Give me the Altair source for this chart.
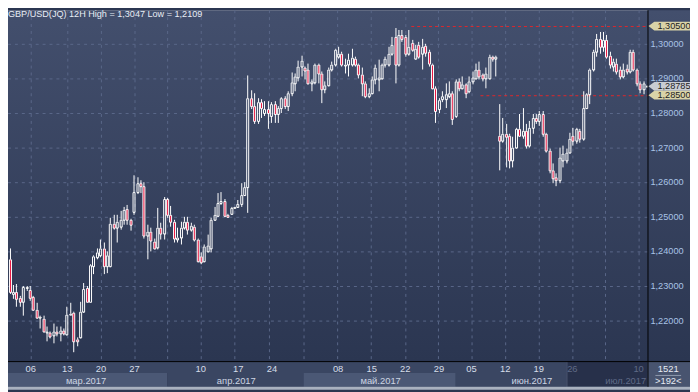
import altair as alt
import pandas as pd

# ---------------- data: 12H candles, left to right ----------------
open_ = [
 1.2377,1.2277,1.2284,1.2265,1.2255,1.2293,1.2289,1.2268,1.2231,1.2208,
 1.2206,1.2165,1.2166,1.2156,1.2168,1.2163,1.2171,1.2160,1.2217,1.2223,
 1.2147,1.2151,1.2225,1.2293,1.2255,1.2358,1.2382,1.2389,1.2408,1.2358,
 1.2358,1.2480,1.2468,1.2472,1.2491,1.2522,1.2491,1.2515,1.2572,1.2596,
 1.2589,1.2446,1.2456,1.2430,1.2411,1.2468,1.2451,1.2551,1.2506,1.2487,
 1.2434,1.2439,1.2468,1.2487,1.2463,1.2472,1.2434,1.2387,1.2372,1.2401,
 1.2408,1.2491,1.2503,1.2539,1.2547,1.2506,1.2509,1.2527,1.2530,1.2537,
 1.2563,1.2587,1.2844,1.2820,1.2777,1.2830,1.2801,1.2811,1.2790,1.2827,
 1.2796,1.2813,1.2842,1.2820,1.2858,1.2887,1.2903,1.2934,1.2930,1.2925,
 1.2887,1.2889,1.2939,1.2913,1.2868,1.2880,1.2925,1.2939,1.2963,1.2972,
 1.2936,1.2939,1.2939,1.2958,1.2939,1.2912,1.2887,1.2849,1.2858,1.2896,
 1.2898,1.2901,1.2939,1.2939,1.2972,1.3020,1.2939,1.3025,1.3020,1.2972,
 1.3003,1.2958,1.2996,1.2972,1.2994,1.2977,1.2939,1.2872,1.2811,1.2839,
 1.2839,1.2849,1.2858,1.2791,1.2891,1.2872,1.2882,1.2863,1.2891,1.2901,
 1.2925,1.2910,1.2901,1.2901,1.2963,1.2958,1.2734,1.2720,1.2739,1.2734,
 1.2663,1.2701,1.2753,1.2734,1.2749,1.2706,1.2758,1.2787,1.2777,1.2796,
 1.2739,1.2691,1.2634,1.2615,1.2606,1.2663,1.2663,1.2686,1.2734,1.2720,
 1.2749,1.2725,1.2815,1.2853,1.2925,1.2977,1.3015,1.2991,1.3010,1.2967,
 1.2934,1.2944,1.2925,1.2906,1.2929,1.2920,1.2977,1.2926,1.2887,1.2869,
 1.2878,
]
high = [
 1.2408,1.2303,1.2306,1.2272,1.2299,1.2301,1.2299,1.2272,1.2251,1.2215,
 1.2215,1.2182,1.2170,1.2191,1.2182,1.2182,1.2176,1.2239,1.2251,1.2225,
 1.2151,1.2255,1.2310,1.2299,1.2363,1.2389,1.2410,1.2434,1.2425,1.2401,
 1.2496,1.2506,1.2506,1.2517,1.2530,1.2534,1.2494,1.2620,1.2614,1.2605,
 1.2600,1.2477,1.2468,1.2437,1.2525,1.2482,1.2558,1.2555,1.2531,1.2491,
 1.2468,1.2487,1.2501,1.2501,1.2482,1.2477,1.2436,1.2396,1.2420,1.2449,
 1.2496,1.2530,1.2568,1.2572,1.2551,1.2510,1.2530,1.2530,1.2549,1.2596,
 1.2601,1.2909,1.2865,1.2858,1.2844,1.2839,1.2834,1.2834,1.2830,1.2834,
 1.2820,1.2846,1.2849,1.2863,1.2918,1.2915,1.2952,1.2966,1.2934,1.2944,
 1.2896,1.2944,1.2944,1.2920,1.2892,1.2930,1.2949,1.2987,1.2992,1.2977,
 1.2958,1.2972,1.2987,1.2963,1.2944,1.2930,1.2891,1.2872,1.2906,1.2939,
 1.2955,1.2944,1.2963,1.2991,1.3020,1.3047,1.3039,1.3039,1.3025,1.3039,
 1.3010,1.2996,1.3006,1.3015,1.2999,1.2984,1.2944,1.2877,1.2844,1.2863,
 1.2887,1.2891,1.2863,1.2896,1.2901,1.2906,1.2887,1.2906,1.2920,1.2944,
 1.2949,1.2915,1.2930,1.2968,1.2967,1.2967,1.2825,1.2787,1.2768,1.2739,
 1.2730,1.2758,1.2796,1.2815,1.2768,1.2777,1.2796,1.2796,1.2806,1.2806,
 1.2744,1.2696,1.2653,1.2625,1.2701,1.2706,1.2696,1.2744,1.2758,1.2758,
 1.2753,1.2863,1.2858,1.2929,1.2982,1.3029,1.3034,1.3034,1.3025,1.2977,
 1.2958,1.2958,1.2934,1.2944,1.2939,1.2984,1.2982,1.2929,1.2891,1.2891,
 1.2880,
]
low = [
 1.2277,1.2263,1.2239,1.2239,1.2213,1.2287,1.2258,1.2229,1.2206,1.2177,
 1.2166,1.2139,1.2149,1.2134,1.2153,1.2139,1.2158,1.2158,1.2217,1.2109,
 1.2125,1.2149,1.2223,1.2253,1.2253,1.2334,1.2377,1.2382,1.2334,1.2337,
 1.2353,1.2463,1.2425,1.2463,1.2477,1.2477,1.2460,1.2506,1.2565,1.2570,
 1.2437,1.2377,1.2401,1.2406,1.2406,1.2434,1.2434,1.2496,1.2472,1.2425,
 1.2425,1.2420,1.2463,1.2449,1.2458,1.2428,1.2368,1.2363,1.2368,1.2396,
 1.2396,1.2489,1.2499,1.2534,1.2499,1.2497,1.2506,1.2525,1.2527,1.2530,
 1.2560,1.2512,1.2811,1.2769,1.2768,1.2787,1.2791,1.2753,1.2772,1.2772,
 1.2772,1.2801,1.2810,1.2806,1.2849,1.2863,1.2891,1.2906,1.2896,1.2882,
 1.2863,1.2882,1.2887,1.2829,1.2858,1.2877,1.2920,1.2934,1.2958,1.2934,
 1.2915,1.2906,1.2934,1.2934,1.2901,1.2849,1.2844,1.2844,1.2853,1.2882,
 1.2863,1.2896,1.2930,1.2934,1.2967,1.2887,1.2934,1.3006,1.2963,1.2967,
 1.2977,1.2953,1.2958,1.2925,1.2963,1.2934,1.2868,1.2772,1.2801,1.2830,
 1.2815,1.2844,1.2767,1.2787,1.2863,1.2868,1.2844,1.2858,1.2882,1.2896,
 1.2896,1.2891,1.2872,1.2896,1.2949,1.2906,1.2634,1.2715,1.2644,1.2639,
 1.2644,1.2696,1.2730,1.2725,1.2696,1.2701,1.2739,1.2768,1.2763,1.2730,
 1.2686,1.2625,1.2596,1.2590,1.2596,1.2644,1.2653,1.2682,1.2706,1.2710,
 1.2715,1.2720,1.2810,1.2825,1.2920,1.2963,1.2972,1.2977,1.2958,1.2929,
 1.2920,1.2910,1.2896,1.2901,1.2910,1.2915,1.2920,1.2877,1.2856,1.2854,
 1.2877,
]
close = [
 1.2282,1.2284,1.2263,1.2255,1.2296,1.2296,1.2265,1.2232,1.2208,1.2212,
 1.2168,1.2170,1.2153,1.2170,1.2163,1.2172,1.2163,1.2217,1.2220,1.2139,
 1.2139,1.2225,1.2291,1.2255,1.2360,1.2385,1.2396,1.2408,1.2358,1.2389,
 1.2480,1.2468,1.2487,1.2491,1.2520,1.2491,1.2477,1.2572,1.2596,1.2589,
 1.2446,1.2456,1.2432,1.2410,1.2468,1.2451,1.2551,1.2506,1.2487,1.2436,
 1.2439,1.2468,1.2487,1.2463,1.2473,1.2434,1.2372,1.2368,1.2413,1.2417,
 1.2491,1.2506,1.2539,1.2547,1.2503,1.2501,1.2525,1.2529,1.2537,1.2563,
 1.2587,1.2844,1.2820,1.2777,1.2830,1.2815,1.2811,1.2801,1.2827,1.2798,
 1.2813,1.2842,1.2820,1.2858,1.2889,1.2906,1.2934,1.2951,1.2922,1.2887,
 1.2891,1.2939,1.2913,1.2868,1.2880,1.2925,1.2939,1.2982,1.2972,1.2939,
 1.2941,1.2953,1.2960,1.2939,1.2910,1.2887,1.2849,1.2858,1.2896,1.2930,
 1.2903,1.2939,1.2958,1.2972,1.2996,1.2939,1.3025,1.3015,1.2972,1.2991,
 1.2984,1.2987,1.2963,1.2991,1.2974,1.2944,1.2872,1.2806,1.2836,1.2849,
 1.2853,1.2858,1.2782,1.2891,1.2872,1.2882,1.2858,1.2891,1.2903,1.2925,
 1.2906,1.2901,1.2915,1.2963,1.2958,1.2963,1.2720,1.2739,1.2730,1.2663,
 1.2701,1.2753,1.2734,1.2749,1.2706,1.2758,1.2787,1.2777,1.2796,1.2739,
 1.2691,1.2634,1.2610,1.2606,1.2672,1.2682,1.2686,1.2725,1.2720,1.2753,
 1.2725,1.2815,1.2853,1.2925,1.2977,1.3015,1.2991,1.3010,1.2963,1.2939,
 1.2948,1.2920,1.2906,1.2925,1.2920,1.2977,1.2926,1.2887,1.2869,1.2886,
 1.28785,
]

# price axis
y_tick_values = [1.22, 1.23, 1.24, 1.25, 1.26, 1.27, 1.28, 1.29, 1.30]
y_tick_labels = ["1,22000", "1,23000", "1,24000", "1,25000", "1,26000",
                 "1,27000", "1,28000", "1,29000", "1,30000"]

# time axis (positions in candle slots)
grid_slots = [6.24, 17.07, 27.14, 37.10, 47.06, 57.10, 67.06, 77.31, 87.55, 97.66,
              107.85, 117.92, 127.88, 137.92, 147.88, 157.83, 167.79, 177.65, 187.70]
day_label_slots = [6.4, 17.3, 27.2, 37.2, 57.1, 68.2, 78.2, 98.1, 108.1, 118.0,
                   128.0, 137.9, 147.9, 157.8, 167.8, 187.7]
day_labels = ["06", "13", "20", "27", "10", "17", "24", "08", "15", "22",
              "29", "05", "12", "19", "26", "10"]
day_dim = [False] * 14 + [True, True]
month_names = ["мар.2017", "апр.2017", "май.2017", "июн.2017", "июл.2017"]
month_label_slots = [22.8, 67.6, 110.7, 155.8, 183.9]
month_start = [-0.5, 46.85, 87.8, 133.2, 166.0]
month_end = [46.85, 87.8, 133.2, 166.0, 190.3]
month_dim = [False, False, False, False, True]

# horizontal levels and price tags
level_prices = [1.3050, 1.2850]
level_start_slots = [119.8, 140.6]
tag_prices = [1.3050, 1.28785, 1.2850]
tag_texts = ["1,30500", "1,28785", "1,28500"]

symbol = "GBP/USD(JQ)"
period = "12H"
bars_count = "1521"
bars_visible = ">192<"

# ---------------- frames ----------------
n = len(close)
df = pd.DataFrame({"s": list(range(n)), "o": open_, "h": high, "l": low, "c": close})
df["top"] = df[["o", "c"]].max(axis=1)
df["bot"] = df[["o", "c"]].min(axis=1)

FONT = "Liberation Sans"
W, H = 647, 355          # plot area
TOTAL_W, TOTAL_H = 690, 384

xs = alt.Scale(domain=[-0.5, 190.3], nice=False, zero=False, round=True, padding=0)
ys = alt.Scale(domain=[1.208286, 1.309714], nice=False, zero=False, round=True, padding=0)
X = lambda f: alt.X(f, type="quantitative", scale=xs, axis=None)
Y = lambda f: alt.Y(f, type="quantitative", scale=ys, axis=None)

one = pd.DataFrame({"k": [0]})

grad = alt.LinearGradient(
    gradient="linear",
    stops=[alt.GradientStop(color="#434f6d", offset=0),
           alt.GradientStop(color="#2b3651", offset=1)],
    x1=0, x2=0, y1=0, y2=1)

bg = alt.Chart(one).mark_rect(fill=grad).encode(
    x=alt.value(0), x2=alt.value(TOTAL_W), y=alt.value(0), y2=alt.value(H))

day_row = alt.Chart(one).mark_rect(color="#3a4662").encode(
    x=alt.value(0), x2=alt.value(W), y=alt.value(H), y2=alt.value(367))

mdf = pd.DataFrame({"i": list(range(5)), "name": month_names, "xs": month_start,
                    "xe": month_end, "xm": month_label_slots, "dim": month_dim})
bands = alt.Chart(mdf).mark_rect().encode(
    x=X("xs"), x2="xe", y=alt.value(367), y2=alt.value(381),
    color=alt.condition("datum.i % 2 == 0", alt.value("#4b5875"), alt.value("#3a4662")))

dim_box = alt.Chart(pd.DataFrame({"a": [166.0], "b": [190.3]})).mark_rect(
    color="#27304a").encode(x=X("a"), x2="b", y=alt.value(H), y2=alt.value(381))
dim_edge = alt.Chart(pd.DataFrame({"a": [166.0]})).mark_rule(
    color="#4d5874", xOffset=0.5).encode(x=X("a"), y=alt.value(H), y2=alt.value(381))

right_box = alt.Chart(one).mark_rect(color="#48546f").encode(
    x=alt.value(W), x2=alt.value(TOTAL_W), y=alt.value(H), y2=alt.value(381))
bottom_border = alt.Chart(one).mark_rect(color="#a9b1bf").encode(
    x=alt.value(0), x2=alt.value(TOTAL_W), y=alt.value(381), y2=alt.value(TOTAL_H))

hgrid = alt.Chart(pd.DataFrame({"p": y_tick_values})).mark_rule(
    color="#5a6789", strokeDash=[3, 4], yOffset=0.5).encode(
    y=Y("p"), x=alt.value(0), x2=alt.value(W))
vgrid = alt.Chart(pd.DataFrame({"g": grid_slots})).mark_rule(
    color="#5a6789", strokeDash=[3, 4], xOffset=0.5).encode(
    x=X("g"), y=alt.value(0), y2=alt.value(H))

levels = alt.Chart(pd.DataFrame({"p": level_prices, "x0": level_start_slots})).mark_rule(
    color="#e0262c", strokeDash=[3, 3], yOffset=0.5).encode(
    x=X("x0"), x2=alt.value(W), y=Y("p"))

base = alt.Chart(df)
wick_up = base.mark_rule(color="white", strokeWidth=1, xOffset=0.5).encode(
    x=X("s"), y=Y("h"), y2="top")
wick_dn = base.mark_rule(color="white", strokeWidth=1, xOffset=0.5).encode(
    x=X("s"), y=Y("bot"), y2="l")
bodies = base.mark_bar(size=2, stroke="white", strokeWidth=1,
                       xOffset=0.5, yOffset=0.5, y2Offset=0.5).encode(
    x=X("s"), y=Y("top"), y2="bot",
    fill=alt.condition("datum.c < datum.o", alt.value("#e8103c"), alt.value("transparent")))

vline = alt.Chart(one).mark_rule(color="#000000").encode(
    x=alt.value(W + 0.5), y=alt.value(0), y2=alt.value(381))
hline = alt.Chart(one).mark_rule(color="#000000").encode(
    x=alt.value(0), x2=alt.value(TOTAL_W), y=alt.value(H + 0.5))

ylabels = alt.Chart(pd.DataFrame({"p": y_tick_values, "t": y_tick_labels})).mark_text(
    align="left", baseline="middle", font=FONT, fontSize=9.3, color="#a9c3e6").encode(
    x=alt.value(650), y=Y("p"), text="t:N")

TAG_PATH = "M-1,0L-0.72,-0.21L1,-0.21L1,0.21L-0.72,0.21Z"
tdf = pd.DataFrame({"p": tag_prices, "t": tag_texts})
tags = alt.Chart(tdf).mark_point(shape=TAG_PATH, filled=True, opacity=1, size=42 * 42,
                                 strokeWidth=0).encode(
    x=alt.value(669), y=Y("p"),
    color=alt.condition("datum.t == '1,28785'", alt.value("#c9ccd3"), alt.value("#d9d3a8")))
tag_text = alt.Chart(tdf).mark_text(
    align="left", baseline="middle", font=FONT, fontSize=9.3, color="#1e1e1e").encode(
    x=alt.value(657), y=Y("p"), text="t:N")

ddf = pd.DataFrame({"x": day_label_slots, "t": day_labels, "dim": day_dim})
day_text = alt.Chart(ddf).mark_text(
    align="center", baseline="middle", font=FONT, fontSize=9.5).encode(
    x=X("x"), y=alt.value(363.5), text="t:N",
    color=alt.condition("datum.dim", alt.value("#5f6a86"), alt.value("#d6dde9")))
month_text = alt.Chart(mdf).mark_text(
    align="center", baseline="middle", font=FONT, fontSize=9.5).encode(
    x=X("xm"), y=alt.value(375), text="name:N",
    color=alt.condition("datum.dim", alt.value("#5f6a86"), alt.value("#cdd5e3")))

fmt = lambda v: f"{v:.4f}".replace(".", ",")
title_str = f"{symbol} {period} High = {fmt(max(high))} Low = {fmt(min(low))}"
title = alt.Chart(pd.DataFrame({"t": [title_str]})).mark_text(
    align="left", baseline="top", font=FONT, fontSize=9.2, color="#e9edf5").encode(
    x=alt.value(0), y=alt.value(0), text="t:N")

br_df = pd.DataFrame({"t": [bars_count, bars_visible], "yy": [363, 375.5]})
br_text = alt.Chart(br_df).mark_text(
    align="center", baseline="middle", font=FONT, fontSize=9.5, color="#e6ebf3").encode(
    x=alt.value(668), y=alt.Y("yy:Q", scale=None), text="t:N")
br_line = alt.Chart(one).mark_rule(color="#8f99ad").encode(
    x=alt.value(655), x2=alt.value(681), y=alt.value(369.5))

chart = alt.layer(
    bg, day_row, bands, dim_box, dim_edge, right_box, bottom_border,
    hgrid, vgrid, levels, wick_up, wick_dn, bodies, vline, hline,
    ylabels, tags, tag_text, day_text, month_text, title, br_text, br_line,
).properties(
    width=W, height=H,
    padding={"left": 0, "top": 0, "right": TOTAL_W - W, "bottom": TOTAL_H - H},
    autosize=alt.AutoSizeParams(type="none"),
).configure_view(stroke=None).configure(background="#2b3651")

chart.save("out.html", embed_options={"renderer": "svg", "actions": False})
